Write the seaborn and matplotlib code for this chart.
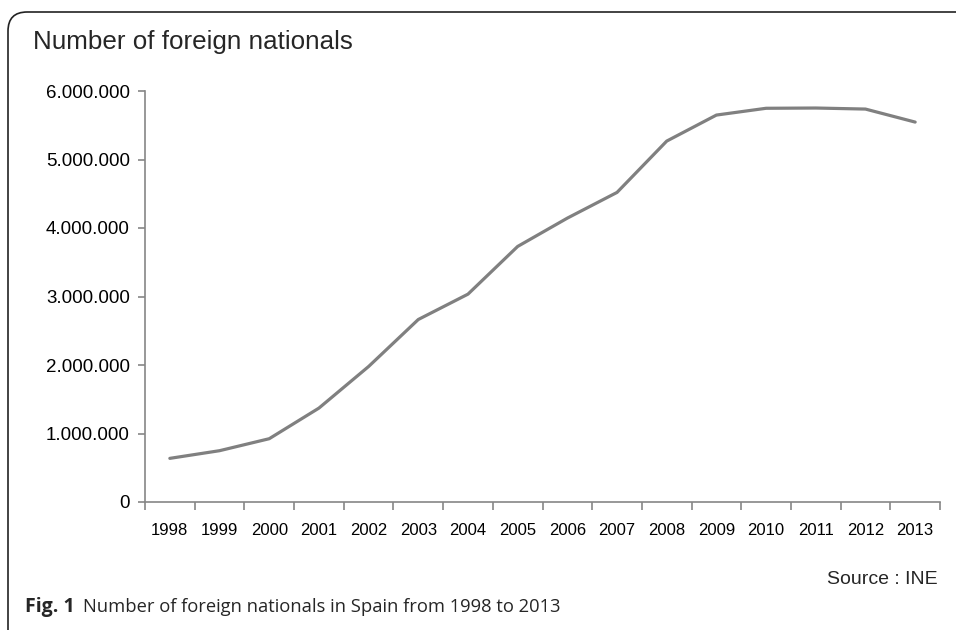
import matplotlib
matplotlib.use("Agg")
import matplotlib.pyplot as plt
from matplotlib.patches import FancyBboxPatch
from matplotlib.ticker import FuncFormatter
import seaborn as sns

years = ['1998', '1999', '2000', '2001', '2002', '2003', '2004', '2005',
         '2006', '2007', '2008', '2009', '2010', '2011', '2012', '2013']
foreigners = [637085, 748954, 923879, 1370657, 1977946, 2664168, 3034326, 3730610,
              4144166, 4519554, 5268762, 5648671, 5747734, 5751487, 5736258, 5546238]
y_ticks = [0, 1000000, 2000000, 3000000, 4000000, 5000000, 6000000]

sns.set_theme(style="white")
plt.rcParams['font.family'] = ['Liberation Sans', 'DejaVu Sans']

W, H = 956, 630
fig = plt.figure(figsize=(W / 100, H / 100), dpi=100)
ax = fig.add_axes([145 / W, (H - 502) / H, (940 - 145) / W, (502 - 91) / H])

pos = list(range(len(years)))
sns.lineplot(x=pos, y=foreigners, ax=ax, color='#808080', linewidth=2.3)

ax.set_xlim(-0.5, len(years) - 0.5)
ax.set_ylim(0, 6000000)
ax.set_yticks(y_ticks)
ax.yaxis.set_major_formatter(FuncFormatter(lambda v, p: f'{int(v):,}'.replace(',', '.')))
ax.set_xticks(pos)
ax.set_xticklabels(years)
ax.set_xticks([p - 0.5 for p in pos] + [len(years) - 0.5], minor=True)

for s in ['top', 'right']:
    ax.spines[s].set_visible(False)
for s in ['left', 'bottom']:
    ax.spines[s].set_color('#868686')
    ax.spines[s].set_linewidth(1.2)

ax.tick_params(axis='y', which='major', left=True, length=5, width=1.2, color='#868686',
               labelsize=13.5, labelcolor='black', pad=6)
ax.tick_params(axis='x', which='major', bottom=False, labelsize=12, labelcolor='black', pad=9)
ax.tick_params(axis='x', which='minor', bottom=True, length=5.5, width=1.2, color='#868686')
ax.grid(False)

fig.text(33 / W, 1 - 42 / H, 'Number of foreign nationals', fontsize=18.7, va='center', ha='left')
fig.text(938 / W, 1 - 580 / H, 'Source : INE', fontsize=14, va='center', ha='right')

fig.text(25 / W, 1 - 607 / H, 'Fig. 1', fontsize=14, fontweight='bold', va='center', ha='left',
         family=['Open Sans', 'DejaVu Sans'])
fig.text(83 / W, 1 - 607 / H, 'Number of foreign nationals in Spain from 1998 to 2013', fontsize=13.2,
         va='center', ha='left', family=['Open Sans', 'DejaVu Sans'])

frame = FancyBboxPatch((8 / W, -20 / H), 1.2, (H - 12 + 20) / H,
                       boxstyle='round,pad=0,rounding_size=0.02', transform=fig.transFigure,
                       fill=False, edgecolor='#222222', linewidth=1.2, mutation_aspect=W / H)
fig.patches.append(frame)

fig.savefig('out.png', dpi=100)
